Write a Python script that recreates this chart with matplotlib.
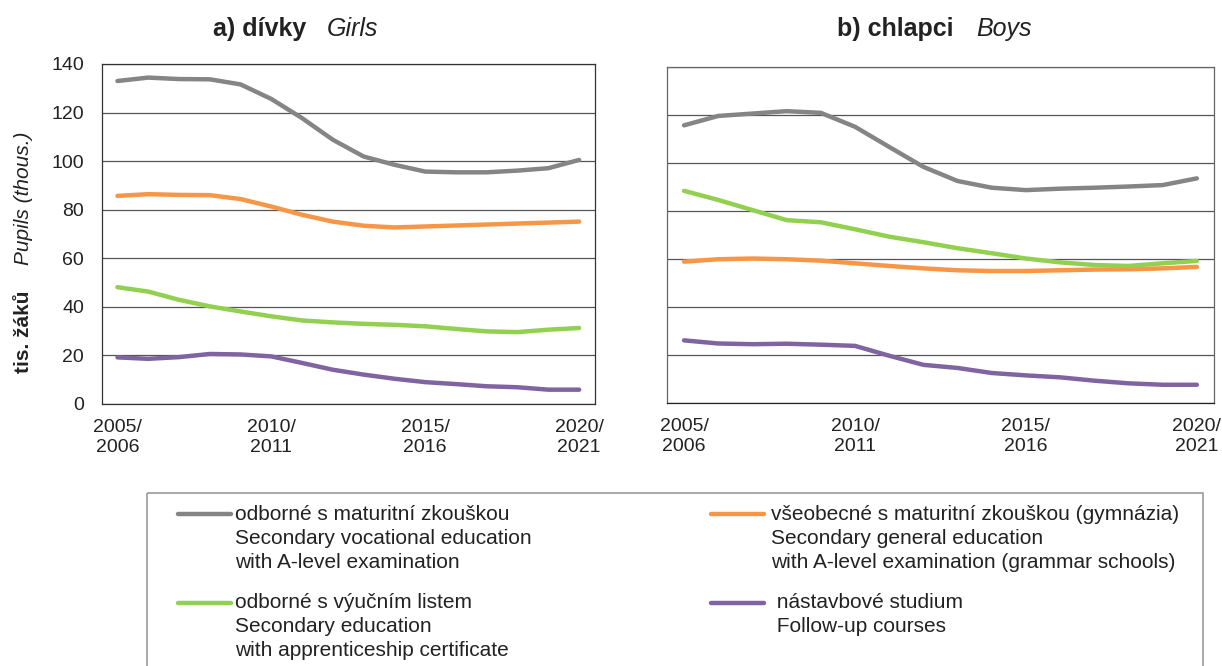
import matplotlib.pyplot as plt
from matplotlib.patches import Rectangle

plt.rcParams['font.family'] = ['Liberation Sans', 'DejaVu Sans']

# school years 2005/2006 .. 2020/2021
seasons = ['%d/\n%d' % (y, y + 1) for y in range(2005, 2021)]
tick_idx = [0, 5, 10, 15]

# girls (thousands)
girls_voc_a = [133.0, 134.4, 133.8, 133.7, 131.6, 125.6, 117.7, 108.8, 101.9, 98.5, 95.7, 95.4, 95.4, 96.1, 97.1, 100.5]
girls_gen_a = [85.7, 86.4, 86.1, 86.0, 84.4, 81.3, 77.9, 75.1, 73.4, 72.7, 73.1, 73.5, 73.9, 74.3, 74.7, 75.1]
girls_appr = [48.1, 46.3, 42.9, 40.2, 38.1, 36.1, 34.4, 33.6, 33.0, 32.6, 32.0, 30.9, 29.9, 29.6, 30.6, 31.3]
girls_follow = [19.2, 18.6, 19.3, 20.6, 20.4, 19.6, 16.9, 14.1, 12.1, 10.4, 9.0, 8.2, 7.3, 6.9, 5.9, 5.9]

# boys (thousands)
boys_voc_a = [115.7, 119.6, 120.6, 121.6, 120.9, 115.1, 106.7, 98.4, 92.5, 89.7, 88.7, 89.3, 89.7, 90.2, 90.8, 93.6]
boys_gen_a = [58.9, 59.9, 60.2, 59.9, 59.3, 58.2, 57.1, 56.1, 55.3, 55.0, 55.0, 55.3, 55.6, 55.7, 56.1, 56.7]
boys_appr = [88.4, 84.6, 80.4, 76.2, 75.3, 72.4, 69.3, 67.0, 64.5, 62.4, 60.2, 58.6, 57.5, 57.1, 58.2, 59.2]
boys_follow = [26.1, 24.8, 24.5, 24.7, 24.3, 23.8, 19.7, 15.9, 14.6, 12.5, 11.5, 10.7, 9.3, 8.2, 7.6, 7.6]

colors = {'voc': '#858585', 'gen': '#F79646', 'appr': '#92D050', 'follow': '#8064A2'}

legend_items = [
    ('voc', ['odborné s maturitní zkouškou', 'Secondary vocational education', 'with A-level examination']),
    ('gen', ['všeobecné s maturitní zkouškou (gymnázia)', 'Secondary general education',
             'with A-level examination (grammar schools)']),
    ('appr', ['odborné s výučním listem', 'Secondary education', 'with apprenticeship certificate']),
    ('follow', [' nástavbové studium', ' Follow-up courses']),
]

fig = plt.figure(figsize=(12.22, 6.66), dpi=100)
ax1 = fig.add_axes([0.0835, 1 - 404 / 666, 0.403, 340 / 666])
ax2 = fig.add_axes([0.5458, 1 - 403 / 666, 0.4476, 336 / 666])

x = list(range(len(seasons)))
for ax, data, frame in [(ax1, (girls_voc_a, girls_gen_a, girls_appr, girls_follow), '#333333'),
                        (ax2, (boys_voc_a, boys_gen_a, boys_appr, boys_follow), '#666666')]:
    for key, vals in zip(['voc', 'gen', 'appr', 'follow'], data):
        ax.plot(x, vals, color=colors[key], lw=3.2, solid_capstyle='round', zorder=3)
    ax.set_xlim(-0.5, len(seasons) - 0.5)
    ax.set_ylim(0, 140)
    ax.set_yticks(range(0, 141, 20))
    ax.set_xticks(tick_idx)
    ax.set_xticklabels([seasons[i] for i in tick_idx])
    ax.yaxis.grid(True, color='#555555', lw=0.9)
    ax.set_axisbelow(True)
    ax.tick_params(length=0, labelsize=14, colors='#222222')
    ax.tick_params(axis='x', pad=11)
    ax.tick_params(axis='y', pad=13)
    for s in ax.spines.values():
        s.set_color(frame)
        s.set_linewidth(0.9)
ax2.spines['bottom'].set_color('#222222')

ax2.tick_params(axis='y', labelleft=False)

# titles
ty = 1 - 36 / 666
fig.text(213 / 1222, ty, 'a) dívky', fontsize=18, fontweight='bold', va='baseline', color='#222222')
fig.text(327 / 1222, ty, 'Girls', fontsize=18, fontstyle='italic', va='baseline', color='#222222')
fig.text(837 / 1222, ty, 'b) chlapci', fontsize=18, fontweight='bold', va='baseline', color='#222222')
fig.text(976 / 1222, ty, 'Boys', fontsize=18, fontstyle='italic', va='baseline', color='#222222')

# y label
fig.text(29 / 1222, 1 - 373 / 666, 'tis. žáků', fontsize=15, fontweight='bold', rotation=90,
         rotation_mode='anchor', ha='left', va='baseline', color='#222222')
fig.text(29 / 1222, 1 - 265 / 666, 'Pupils (thous.)', fontsize=15, fontstyle='italic', rotation=90,
         rotation_mode='anchor', ha='left', va='baseline', color='#222222')

# legend drawn in pixel-like coordinates
lax = fig.add_axes([0, 0, 1, 1 - 486 / 666])
lax.set_xlim(0, 1222)
lax.set_ylim(666, 486)
lax.axis('off')
lax.add_patch(Rectangle((147, 493), 1203 - 147, 200, fill=False, ec='#9a9a9a', lw=1.2, clip_on=False))
slots = [(178, 235, 514), (711, 771, 514), (178, 235, 603), (711, 771, 603)]
for (key, lines), (hx, tx, ty) in zip(legend_items, slots):
    lax.plot([hx, hx + 53], [ty, ty], color=colors[key], lw=3.2, solid_capstyle='round')
    for j, line in enumerate(lines):
        lax.text(tx, ty + 24 * j, line, fontsize=15, va='center', ha='left', color='#222222')

fig.savefig('out.png', dpi=100)
